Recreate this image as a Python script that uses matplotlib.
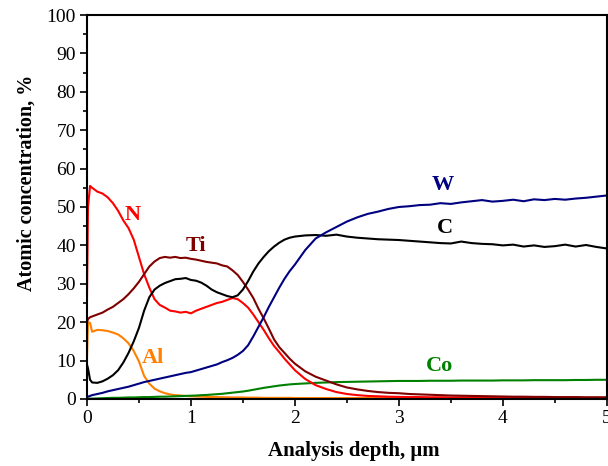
import matplotlib
matplotlib.use('Agg')
import matplotlib.pyplot as plt
from matplotlib.ticker import MultipleLocator

plt.rcParams['font.family'] = ['Liberation Serif', 'DejaVu Serif']

# depth grid, um
depth = [0, 0.01, 0.03, 0.05, 0.10, 0.15, 0.20, 0.25, 0.30, 0.35, 0.40, 0.45, 0.50,
         0.55, 0.60, 0.65, 0.70, 0.75, 0.80, 0.85, 0.90, 0.95, 1.00, 1.05, 1.10,
         1.15, 1.20, 1.25, 1.30, 1.35, 1.40, 1.45, 1.50, 1.55, 1.60, 1.65, 1.70,
         1.75, 1.80, 1.85, 1.90, 1.95, 2.00,
         2.1, 2.2, 2.3, 2.4, 2.5, 2.6, 2.7, 2.8, 2.9, 3.0,
         3.1, 3.2, 3.3, 3.4, 3.5, 3.6, 3.7, 3.8, 3.9, 4.0,
         4.1, 4.2, 4.3, 4.4, 4.5, 4.6, 4.7, 4.8, 4.9, 5.0]

n_conc = [25, 50, 55.5, 55, 54, 53.5, 52.5, 51, 49, 46.5, 44.5, 41.5, 37,
          32.5, 29, 26, 24.5, 23.8, 23, 22.8, 22.5, 22.7, 22.3, 23.0, 23.5,
          24, 24.5, 25, 25.3, 25.8, 26.3, 26, 25, 23.8, 22, 20, 18,
          15.8, 13.8, 12.2, 10.5, 9, 7.5,
          5.2, 3.6, 2.6, 1.8, 1.3, 1.0, 0.8, 0.7, 0.6, 0.55,
          0.5, 0.5, 0.45, 0.45, 0.4, 0.4, 0.4, 0.4, 0.35, 0.35,
          0.35, 0.35, 0.3, 0.3, 0.3, 0.3, 0.3, 0.3, 0.3, 0.3]

ti_conc = [20, 20.8, 21.3, 21.5, 22, 22.5, 23.3, 24, 25, 26, 27.3, 28.8, 30.5,
           32.5, 34.5, 35.8, 36.7, 37, 36.8, 37, 36.7, 36.8, 36.5, 36.3, 36,
           35.7, 35.5, 35.3, 34.8, 34.5, 33.5, 32.3, 30.5, 28.5, 26.3, 23.5, 21,
           18.3, 15.5, 13.5, 12, 10.5, 9.2,
           7.2, 5.8, 4.8, 3.8, 3.0, 2.5, 2.1, 1.8, 1.6, 1.5,
           1.3, 1.2, 1.1, 1.0, 0.9, 0.85, 0.8, 0.75, 0.7, 0.65,
           0.6, 0.6, 0.55, 0.55, 0.5, 0.5, 0.5, 0.45, 0.45, 0.45]

c_conc = [9, 8, 5, 4.3, 4.2, 4.6, 5.3, 6.2, 7.5, 9.5, 12, 15, 18.5,
          23, 26.5, 28.5, 29.5, 30.2, 30.7, 31.2, 31.3, 31.5, 31.0, 30.8, 30.3,
          29.5, 28.5, 27.8, 27.3, 26.8, 26.5, 27.0, 28.5, 30.7, 33.2, 35.3, 37.0,
          38.5, 39.7, 40.7, 41.5, 42.0, 42.3,
          42.6, 42.7, 42.5, 42.8, 42.3, 42.0, 41.8, 41.6, 41.5, 41.4,
          41.2, 41.0, 40.8, 40.6, 40.5, 41.0, 40.6, 40.4, 40.3, 40.0,
          40.2, 39.7, 40.0, 39.6, 39.8, 40.2, 39.7, 40.1, 39.6, 39.2]

w_conc = [0.5, 0.6, 0.8, 1.0, 1.3, 1.6, 2.0, 2.3, 2.6, 2.9, 3.2, 3.6, 4.0,
          4.4, 4.7, 5.0, 5.3, 5.6, 5.9, 6.2, 6.5, 6.8, 7.0, 7.4, 7.8,
          8.2, 8.6, 9.0, 9.6, 10.1, 10.7, 11.5, 12.5, 14.0, 16.3, 18.8, 21.3,
          24.0, 26.5, 29.0, 31.3, 33.3, 35.0,
          38.8, 41.8, 43.4, 44.8, 46.2, 47.3, 48.2, 48.8, 49.5, 50.0,
          50.2, 50.5, 50.6, 51.0, 50.8, 51.2, 51.5, 51.8, 51.4, 51.6,
          51.9, 51.5, 52.0, 51.8, 52.1, 51.9, 52.2, 52.4, 52.7, 53.0]

al_conc = [10, 20, 19.8, 17.5, 18, 17.9, 17.7, 17.3, 16.8, 15.8, 14.5, 12.5, 9.8,
           6.0, 4.0, 2.7, 2.0, 1.5, 1.2, 1.0, 0.9, 0.8, 0.7, 0.65, 0.6,
           0.55, 0.5, 0.5, 0.45, 0.45, 0.4, 0.4, 0.4, 0.35, 0.35, 0.35, 0.3,
           0.3, 0.3, 0.3, 0.3, 0.3, 0.25,
           0.25, 0.25, 0.25, 0.25, 0.25, 0.25, 0.25, 0.25, 0.25, 0.25,
           0.2, 0.2, 0.2, 0.2, 0.2, 0.2, 0.2, 0.2, 0.2, 0.2,
           0.2, 0.2, 0.2, 0.2, 0.2, 0.2, 0.2, 0.2, 0.2, 0.2]

co_conc = [0, 0.05, 0.1, 0.1, 0.15, 0.2, 0.25, 0.3, 0.3, 0.35, 0.4, 0.4, 0.45,
           0.5, 0.5, 0.55, 0.6, 0.6, 0.65, 0.7, 0.75, 0.8, 0.85, 0.9, 1.0,
           1.05, 1.15, 1.25, 1.35, 1.5, 1.65, 1.8, 1.95, 2.15, 2.4, 2.65, 2.9,
           3.1, 3.3, 3.5, 3.65, 3.8, 3.9,
           4.05, 4.2, 4.3, 4.4, 4.45, 4.5, 4.55, 4.6, 4.65, 4.7,
           4.7, 4.7, 4.75, 4.75, 4.75, 4.8, 4.8, 4.8, 4.8, 4.85,
           4.85, 4.85, 4.9, 4.9, 4.9, 4.9, 4.95, 4.95, 5.0, 5.0]

# element name, values, colour, label position
series = [
    ('Al', al_conc, '#ff8000', 0.63, 10.7),
    ('Co', co_conc, '#008000', 3.39, 8.6),
    ('N', n_conc, '#ff0000', 0.44, 47.9),
    ('Ti', ti_conc, '#800000', 1.05, 39.8),
    ('C', c_conc, '#000000', 3.44, 44.5),
    ('W', w_conc, '#000080', 3.42, 55.7),
]

fig = plt.figure(figsize=(6.08, 4.66), dpi=100)
ax = fig.add_axes([0.143, 0.1438, 0.855, 0.824])

for name, vals, col, lx, ly in series:
    ax.plot(depth, vals, color=col, lw=1.5)
    ax.text(lx, ly, name, color=col, fontsize=16, fontweight='bold',
            ha='center', va='center')

ax.set_xlim(0, 5)
ax.set_ylim(0, 100)
ax.xaxis.set_major_locator(MultipleLocator(1))
ax.xaxis.set_minor_locator(MultipleLocator(0.5))
ax.yaxis.set_major_locator(MultipleLocator(10))
ax.yaxis.set_minor_locator(MultipleLocator(5))
ax.tick_params(which='major', direction='out', length=5, width=1.2, labelsize=14, pad=3)
ax.tick_params(which='minor', direction='out', length=3, width=1.2)
for sp in ax.spines.values():
    sp.set_linewidth(1.5)

ax.set_xlabel('Analysis depth, μm', fontsize=15, fontweight='bold')
ax.set_ylabel('Atomic concentration, %', fontsize=14.5, fontweight='bold')
ax.xaxis.set_label_coords(0.513, -0.11)
ax.yaxis.set_label_coords(-0.096, 0.5625)

fig.savefig('out.png', dpi=100)
